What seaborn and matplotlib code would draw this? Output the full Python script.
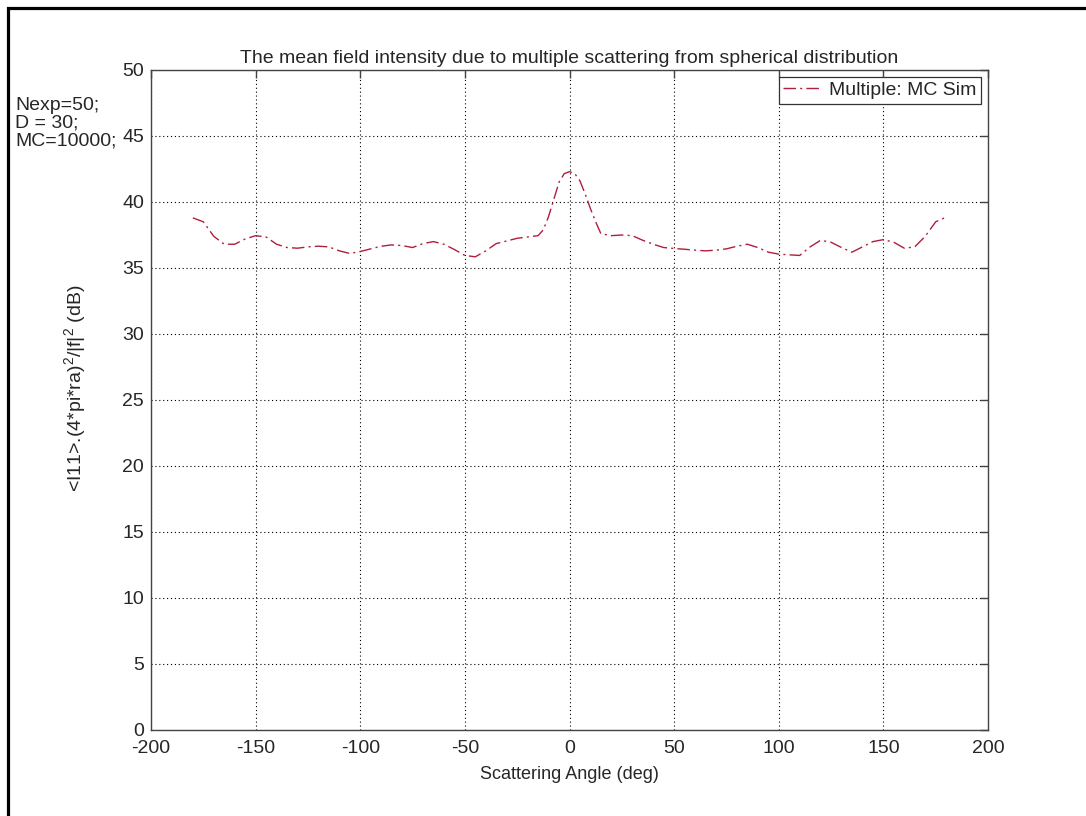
import numpy as np
import pandas as pd
import matplotlib
matplotlib.use("Agg")
import matplotlib.pyplot as plt
import matplotlib.patches as mpatches
import seaborn as sns

# Scattering angle (deg) and mean field intensity (dB)
angles = [
    -180, -175, -170, -165, -160, -155, -150, -145, -140, -135,
    -130, -125, -120, -115, -110, -105, -100, -95, -90, -85,
    -80, -75, -70, -65, -60, -55, -50, -45, -40, -35,
    -30, -25, -20, -15, -12.5, -10, -7.5, -5, -2.5, 0,
    2.5, 5, 7.5, 10, 12.5, 15, 20, 25, 30, 35,
    40, 45, 50, 55, 60, 65, 70, 75, 80, 85,
    90, 95, 100, 105, 110, 115, 120, 125, 130, 135,
    140, 145, 150, 155, 160, 165, 170, 175, 180,
]
intensity_db = [
    38.8, 38.5, 37.4, 36.8, 36.8, 37.2, 37.45, 37.35, 36.8, 36.55,
    36.5, 36.6, 36.65, 36.6, 36.3, 36.1, 36.25, 36.45, 36.65, 36.75,
    36.7, 36.55, 36.85, 37.0, 36.8, 36.4, 35.95, 35.85, 36.3, 36.85,
    37.05, 37.25, 37.35, 37.45, 37.9, 38.9, 40.2, 41.5, 42.15, 42.3,
    42.15, 41.6, 40.6, 39.5, 38.5, 37.6, 37.45, 37.5, 37.45, 37.1,
    36.8, 36.55, 36.48, 36.42, 36.35, 36.3, 36.35, 36.45, 36.65, 36.8,
    36.55, 36.2, 36.05, 36.0, 35.95, 36.6, 37.1, 36.95, 36.55, 36.2,
    36.6, 37.0, 37.15, 36.95, 36.5, 36.6, 37.4, 38.5, 38.85,
]
series_name = "Multiple: MC Sim"
x_ticks = [-200, -150, -100, -50, 0, 50, 100, 150, 200]
y_ticks = [0, 5, 10, 15, 20, 25, 30, 35, 40, 45, 50]
params_text = ["Nexp=50;", "D = 30;", "MC=10000;"]

sns.set_style("white")
plt.rcParams["font.family"] = ["Liberation Sans", "DejaVu Sans"]
plt.rcParams["mathtext.fontset"] = "custom"
plt.rcParams["mathtext.rm"] = "Liberation Sans"
plt.rcParams["mathtext.it"] = "Liberation Sans:italic"

df = pd.DataFrame({"angle": angles, "value": intensity_db, "series": series_name})

W, H = 1086, 816
fig = plt.figure(figsize=(W / 100, H / 100), dpi=100)
ax = fig.add_axes([151 / W, 1 - 730 / H, 837 / W, 660 / H])

dash_pattern = [9, 3, 1.5, 3]
sns.lineplot(data=df, x="angle", y="value", hue="series",
             palette=["#b01e3c"], ax=ax, linewidth=1.0, legend=True)
ax.get_lines()[0].set_dashes(dash_pattern)

ax.set_xlim(-200, 200)
ax.set_ylim(0, 50)
ax.set_xticks(x_ticks)
ax.set_yticks(y_ticks)
ax.set_xticklabels([str(t) for t in x_ticks])
ax.set_yticklabels([str(t) for t in y_ticks])

ax.grid(True, color="black", linestyle=(0, (1, 2.5)), linewidth=0.8)
for s in ax.spines.values():
    s.set_color("#444444")
    s.set_linewidth(1.0)
ax.tick_params(direction="in", length=6, width=1.0, color="#444444",
               top=True, right=True, labelsize=14, pad=5)
ax.tick_params(axis="x", pad=7)

ax.set_title("The mean field intensity due to multiple scattering from spherical distribution",
             fontsize=14, pad=5)
ax.set_xlabel("Scattering Angle (deg)", fontsize=13, labelpad=7)
ax.set_ylabel(r"<I11>.(4*pi*ra)$^{\mathrm{2}}$/|f|$^{\mathrm{2}}$ (dB)", fontsize=14)
ax.yaxis.set_label_coords(-0.075, 0.517)

leg = ax.legend(loc="upper right", fontsize=14, frameon=True, fancybox=False,
                framealpha=1, edgecolor="#333333", borderaxespad=0.38,
                handlelength=1.85, handletextpad=0.5, borderpad=0.22)
leg.get_frame().set_linewidth(0.9)
leg.set_title(None)
for h in leg.get_lines():
    h.set_dashes(dash_pattern)

# simulation parameters, one line each
for txt, yc in zip(params_text, [105, 123, 141]):
    fig.text(15 / W, 1 - yc / H, txt, fontsize=14, va="center", ha="left")

# outer frame of the figure
frame = mpatches.Rectangle((8 / W, -0.1), 1.2, 1.1 - 8 / H,
                           transform=fig.transFigure, fill=False,
                           edgecolor="black", linewidth=2.3, clip_on=False)
fig.patches.append(frame)

fig.savefig("out.png", dpi=100, facecolor="white")
